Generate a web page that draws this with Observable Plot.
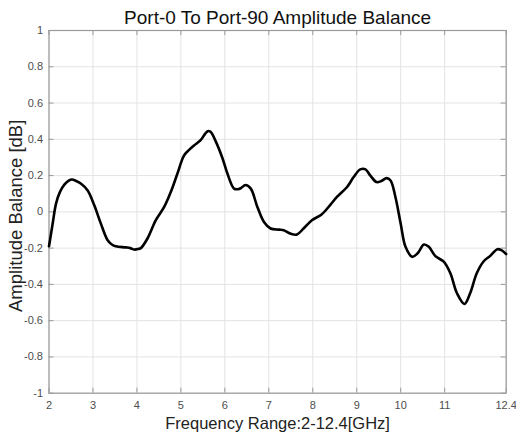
<!DOCTYPE html>
<html>
<head>
<meta charset="utf-8">
<script src="https://cdn.jsdelivr.net/npm/d3@7"></script>
<script src="https://cdn.jsdelivr.net/npm/@observablehq/plot@0.6"></script>
<style>
  html, body { margin: 0; padding: 0; background: #fff; }
  #chart svg { display: block; }
</style>
</head>
<body>
<div id="chart"></div>
<script>
const title = "Port-0 To Port-90 Amplitude Balance";
const xLabel = "Frequency Range:2-12.4[GHz]";
const yLabel = "Amplitude Balance [dB]";

const freq = [2.0, 2.08, 2.16, 2.25, 2.35, 2.45, 2.52, 2.62, 2.73, 2.88, 3.03, 3.18, 3.33, 3.43, 3.52, 3.75, 3.85, 3.94, 4.03, 4.09, 4.24, 4.43, 4.62, 4.77, 4.92, 5.07, 5.18, 5.30, 5.45, 5.55, 5.61, 5.68, 5.79, 5.94, 6.06, 6.21, 6.30, 6.36, 6.47, 6.59, 6.74, 6.89, 7.04, 7.23, 7.34, 7.49, 7.64, 7.79, 7.98, 8.20, 8.39, 8.55, 8.78, 8.93, 9.08, 9.20, 9.31, 9.45, 9.56, 9.68, 9.77, 9.88, 10.0, 10.11, 10.26, 10.38, 10.53, 10.64, 10.79, 10.98, 11.13, 11.28, 11.45, 11.58, 11.73, 11.88, 12.03, 12.2, 12.29, 12.4];
const balance = [-0.19, -0.07, 0.045, 0.11, 0.15, 0.172, 0.178, 0.17, 0.155, 0.118, 0.036, -0.065, -0.155, -0.18, -0.19, -0.196, -0.20, -0.208, -0.205, -0.2, -0.147, -0.046, 0.027, 0.109, 0.21, 0.31, 0.34, 0.366, 0.395, 0.43, 0.445, 0.44, 0.39, 0.30, 0.21, 0.128, 0.125, 0.13, 0.148, 0.128, 0.027, -0.056, -0.092, -0.098, -0.101, -0.12, -0.125, -0.092, -0.046, -0.015, 0.036, 0.082, 0.137, 0.192, 0.234, 0.234, 0.2, 0.164, 0.17, 0.186, 0.173, 0.082, -0.065, -0.193, -0.248, -0.23, -0.18, -0.193, -0.244, -0.275, -0.339, -0.449, -0.508, -0.449, -0.339, -0.275, -0.244, -0.206, -0.211, -0.233];

const xTicks = [2, 3, 4, 5, 6, 7, 8, 9, 10, 11, 12.4];
const yTicks = [-1, -0.8, -0.6, -0.4, -0.2, 0, 0.2, 0.4, 0.6, 0.8, 1];

const data = freq.map((f, i) => ({f, v: balance[i]}));

const W = 516, H = 435;
const mL = 48.5, mR = 10.3, mT = 30, mB = 42.3;
const innerH = H - mT - mB;
const innerW = W - mL - mR;
const tickLen = 5;
const gridCol = "#e3e3e3";
const boxCol = "#9a9a9a";
const labCol = "#4d4d4d";

const chart = Plot.plot({
  width: W,
  height: H,
  marginLeft: mL,
  marginRight: mR,
  marginTop: mT,
  marginBottom: mB,
  style: {fontFamily: "'Liberation Sans', Arial, sans-serif", background: "#fff"},
  x: {domain: [2, 12.4], axis: null},
  y: {domain: [-1, 1], axis: null},
  marks: [
    Plot.ruleX(xTicks, {stroke: gridCol, strokeWidth: 1}),
    Plot.ruleY(yTicks, {stroke: gridCol, strokeWidth: 1}),
    Plot.tickX(xTicks, {x: d => d, stroke: boxCol, insetTop: innerH - tickLen}),
    Plot.tickX(xTicks, {x: d => d, stroke: boxCol, insetBottom: innerH - tickLen}),
    Plot.tickY(yTicks, {y: d => d, stroke: boxCol, insetRight: innerW - tickLen}),
    Plot.tickY(yTicks, {y: d => d, stroke: boxCol, insetLeft: innerW - tickLen}),
    Plot.frame({stroke: boxCol, strokeWidth: 1.2}),
    Plot.line(data, {x: "f", y: "v", stroke: "#000", strokeWidth: 2.6, curve: "catmull-rom"}),
    Plot.text(xTicks, {x: d => d, frameAnchor: "bottom", dy: 16, text: d => String(d), fill: labCol, fontSize: 11}),
    Plot.text(yTicks, {y: d => d, frameAnchor: "left", dx: -6, textAnchor: "end", text: d => String(d), fill: labCol, fontSize: 11}),
    Plot.text([title], {frameAnchor: "top", lineAnchor: "bottom", dy: -7, text: d => d, fill: "#111", fontSize: 19}),
    Plot.text([xLabel], {frameAnchor: "bottom", lineAnchor: "bottom", dy: 36, text: d => d, fill: "#222", fontSize: 16.5}),
    Plot.text([yLabel], {frameAnchor: "left", dx: -33, dy: 4, rotate: -90, textAnchor: "middle", text: d => d, fill: "#222", fontSize: 18.5})
  ]
});
document.getElementById("chart").appendChild(chart);
</script>
</body>
</html>
